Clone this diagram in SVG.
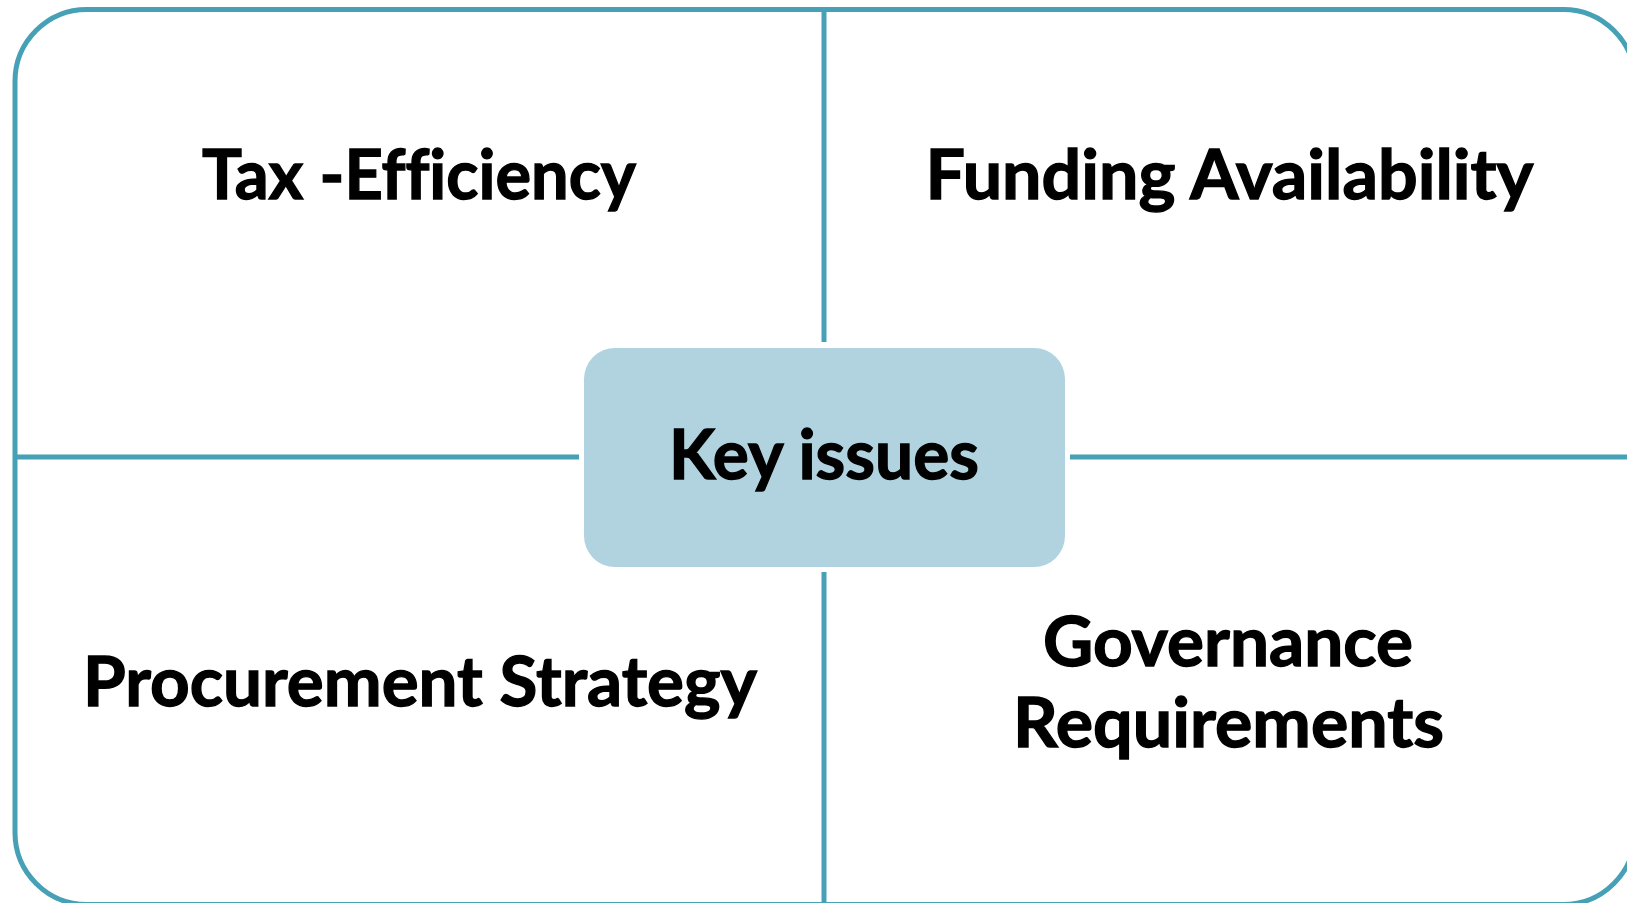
<svg xmlns="http://www.w3.org/2000/svg" width="1627" height="903" viewBox="0 0 1627 903">
  <style>
    .frame { fill: none; stroke: #46A0B6; stroke-width: 5; }
    .conn { stroke: #46A0B6; stroke-width: 5; fill: none; }
    .center { fill: #B1D3DF; stroke: none; }
    .lbl { font-family: Lato, "Open Sans", "Liberation Sans", sans-serif; font-weight: 700; font-size: 68px; fill: #000; stroke: #000; stroke-width: 1.3; text-anchor: middle; font-variant-ligatures: none; font-feature-settings: "liga" 0; }
  </style>
  <rect width="1627" height="903" fill="#ffffff"/>
  <g id="frame">
    <rect class="frame" x="15" y="9.5" width="1620" height="895" rx="72" ry="72"/>
  </g>
  <g id="connectors">
    <line class="conn" x1="824" y1="9.5" x2="824" y2="342"/>
    <line class="conn" x1="824" y1="572" x2="824" y2="903"/>
    <line class="conn" x1="15" y1="457" x2="579" y2="457"/>
    <line class="conn" x1="1070" y1="457" x2="1627" y2="457"/>
  </g>
  <g id="tax-efficiency">
    <text class="lbl" x="419" y="199" textLength="434" lengthAdjust="spacingAndGlyphs">Tax -Efficiency</text>
  </g>
  <g id="funding-availability">
    <text class="lbl" x="1229.5" y="199" textLength="608" lengthAdjust="spacingAndGlyphs">Funding Availability</text>
  </g>
  <g id="key-issues">
    <rect class="center" x="584" y="348" width="481" height="219" rx="31" ry="31"/>
    <text class="lbl" x="824" y="479" textLength="310" lengthAdjust="spacingAndGlyphs">Key issues</text>
  </g>
  <g id="procurement-strategy">
    <text class="lbl" x="420" y="705.5" textLength="674" lengthAdjust="spacingAndGlyphs">Procurement Strategy</text>
  </g>
  <g id="governance-requirements">
    <text class="lbl" x="1228" y="666" textLength="370" lengthAdjust="spacingAndGlyphs">Governance</text>
    <text class="lbl" x="1228.5" y="747" textLength="431" lengthAdjust="spacingAndGlyphs">Requirements</text>
  </g>
</svg>
